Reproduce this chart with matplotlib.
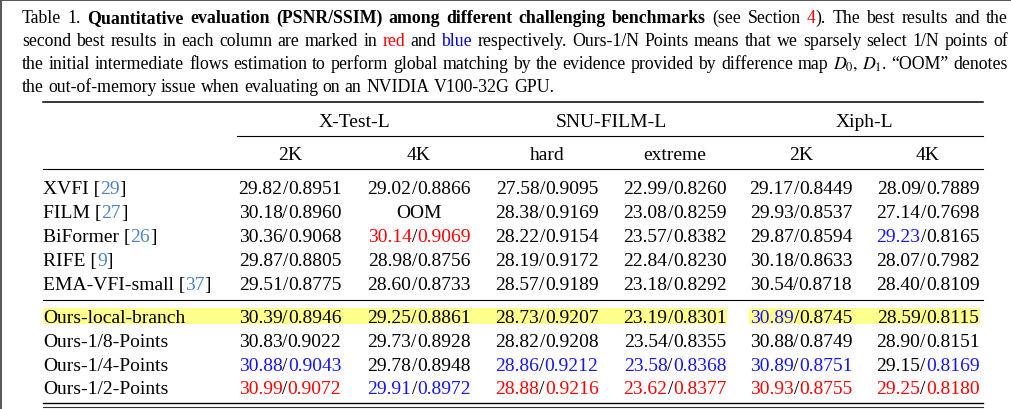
import matplotlib
matplotlib.use("Agg")
import matplotlib.pyplot as plt
from matplotlib.patches import Rectangle

plt.rcParams["font.family"] = ["Liberation Serif", "DejaVu Serif"]
plt.rcParams["mathtext.fontset"] = "stix"

RED = "#ff0000"
BLUE = "#1414ff"
CITE = "#4a84c4"
HILITE = "#ffff8c"
COLORS = {"k": "black", "r": RED, "b": BLUE}

GROUPS = ["X-Test-L", "SNU-FILM-L", "Xiph-L"]
SUBCOLS = ["2K", "4K", "hard", "extreme", "2K", "4K"]
METHODS = ["XVFI", "FILM", "BiFormer", "RIFE", "EMA-VFI-small",
           "Ours-local-branch", "Ours-1/8-Points", "Ours-1/4-Points",
           "Ours-1/2-Points"]
CITES = ["29", "27", "26", "9", "37", "", "", "", ""]

PSNR = [
    ["29.82", "29.02", "27.58", "22.99", "29.17", "28.09"],
    ["30.18", "OOM", "28.38", "23.08", "29.93", "27.14"],
    ["30.36", "30.14", "28.22", "23.57", "29.87", "29.23"],
    ["29.87", "28.98", "28.19", "22.84", "30.18", "28.07"],
    ["29.51", "28.60", "28.57", "23.18", "30.54", "28.40"],
    ["30.39", "29.25", "28.73", "23.19", "30.89", "28.59"],
    ["30.83", "29.73", "28.82", "23.54", "30.88", "28.90"],
    ["30.88", "29.78", "28.86", "23.58", "30.89", "29.15"],
    ["30.99", "29.91", "28.88", "23.62", "30.93", "29.25"],
]
SSIM = [
    ["0.8951", "0.8866", "0.9095", "0.8260", "0.8449", "0.7889"],
    ["0.8960", "", "0.9169", "0.8259", "0.8537", "0.7698"],
    ["0.9068", "0.9069", "0.9154", "0.8382", "0.8594", "0.8165"],
    ["0.8805", "0.8756", "0.9172", "0.8230", "0.8633", "0.7982"],
    ["0.8775", "0.8733", "0.9189", "0.8292", "0.8718", "0.8109"],
    ["0.8946", "0.8861", "0.9207", "0.8301", "0.8745", "0.8115"],
    ["0.9022", "0.8928", "0.9208", "0.8355", "0.8749", "0.8151"],
    ["0.9043", "0.8948", "0.9212", "0.8368", "0.8751", "0.8169"],
    ["0.9072", "0.8972", "0.9216", "0.8377", "0.8755", "0.8180"],
]
# k = plain, r = best, b = second best
MARK_P = ["kkkkkk", "kkkkkk", "krkkkb", "kkkkkk", "kkkkkk",
          "kkkkbk", "kkkkkk", "bkbbbk", "rbrrrr"]
MARK_S = ["kkkkkk", "kkkkkk", "krkkkk", "kkkkkk", "kkkkkk",
          "kkkkkk", "kkkkkk", "bkbbbb", "rbrrrr"]

N = {}
B = {"weight": "bold"}
CAPTION = [
    [("Table 1.  ", N),
     ("Quantitative evaluation (PSNR/SSIM) among different challenging benchmarks", B),
     (" (see Section ", N), ("4", {"color": RED}), ("). The best results and the", N)],
    [("second best results in each column are marked in ", N), ("red", {"color": RED}),
     (" and ", N), ("blue", {"color": "#0000e0"}),
     (" respectively. Ours-1/N Points means that we sparsely select 1/N points of", N)],
    [("the initial intermediate flows estimation to perform global matching by the "
      "evidence provided by difference map ", N), (r"$D_0,\,D_1$", N),
     (". \u201cOOM\u201d denotes", N)],
    [("the out-of-memory issue when evaluating on an NVIDIA V100-32G GPU.", N)],
]

FS = 14.0      # table text
CFS = 12.8     # caption text
W, H = 1011, 410
fig = plt.figure(figsize=(W / 100, H / 100), dpi=100)
ax = fig.add_axes([0, 0, 1, 1])
ax.set_xlim(0, W)
ax.set_ylim(H, 0)
ax.axis("off")
rend = fig.canvas.get_renderer()


def measure(s, fs=FS, **kw):
    t = ax.text(0, 0, s, fontsize=fs, **kw)
    w = t.get_window_extent(rend).width
    t.remove()
    return w


def split_words(segments):
    words, cur = [], []
    for s, kw in segments:
        for i, p in enumerate(s.split(" ")):
            if i > 0 and cur:
                words.append(cur)
                cur = []
            if p:
                cur.append((p, kw))
    if cur:
        words.append(cur)
    return words


def draw_line(segments, y, x0, x1=None):
    words = split_words(segments)
    widths = [[measure(t, CFS, **kw) for t, kw in w] for w in words]
    total = sum(sum(w) for w in widths)
    gap = CFS * 100 / 72 * 0.25
    if x1 is not None:
        gap = (x1 - x0 - total) / (len(words) - 1)
    x = x0
    for w, ws in zip(words, widths):
        for (t, kw), wi in zip(w, ws):
            ax.text(x, y, t, fontsize=CFS, va="baseline", ha="left", **kw)
            x += wi
        x += gap


def draw_pieces(pieces, x, y, ha="center"):
    widths = [measure(t) for t, c in pieces]
    if ha == "center":
        x = x - sum(widths) / 2
    for (t, c), w in zip(pieces, widths):
        ax.text(x, y, t, fontsize=FS, va="baseline", ha="left", color=c)
        x += w


# caption
cap_base = [23, 46, 69, 92]
for i, seg in enumerate(CAPTION):
    draw_line(seg, cap_base[i], 22, 1008 if i < len(CAPTION) - 1 else None)

# frame of the screenshot
ax.plot([1, 1], [0, H], color="#555555", lw=1.4, solid_capstyle="butt")
ax.plot([0, W], [1, 1], color="#555555", lw=1.4, solid_capstyle="butt")

# table geometry
XL, XR = 43, 983
col_x = [290, 419, 547, 675, 801, 928]
row_base = [194, 218, 242, 266, 290, 323, 347, 371, 394]

# highlighted row
ax.add_patch(Rectangle((XL, 309), 727 - XL, 16, color=HILITE, lw=0, zorder=0))
ax.add_patch(Rectangle((749, 309), 980 - 749, 16, color=HILITE, lw=0, zorder=0))

ax.plot([XL, XR], [103, 103], color="black", lw=1.1)
ax.plot([237, XR], [137, 137], color="black", lw=0.8)
ax.plot([XL, XR], [170, 170], color="black", lw=0.8)
ax.plot([XL, XR], [301, 301], color="black", lw=0.8)
ax.plot([XL, XR], [404, 404], color="black", lw=1.0)
ax.plot([XL, XR], [407.5, 407.5], color="#333333", lw=0.8)

for g, name in enumerate(GROUPS):
    cx = (col_x[2 * g] + col_x[2 * g + 1]) / 2
    ax.text(cx, 127, name, fontsize=FS, ha="center", va="baseline")
for c, name in enumerate(SUBCOLS):
    ax.text(col_x[c], 160, name, fontsize=FS, ha="center", va="baseline")

for r, m in enumerate(METHODS):
    y = row_base[r]
    if CITES[r]:
        draw_pieces([(m + " [", "black"), (CITES[r], CITE), ("]", "black")],
                    XL, y, ha="left")
    else:
        ax.text(XL, y, m, fontsize=FS, ha="left", va="baseline")
    for c in range(len(SUBCOLS)):
        if not SSIM[r][c]:
            ax.text(col_x[c], y, PSNR[r][c], fontsize=FS, ha="center", va="baseline")
            continue
        draw_pieces([(PSNR[r][c], COLORS[MARK_P[r][c]]), ("/", "black"),
                     (SSIM[r][c], COLORS[MARK_S[r][c]])], col_x[c], y)

fig.savefig("out.png", dpi=100)
